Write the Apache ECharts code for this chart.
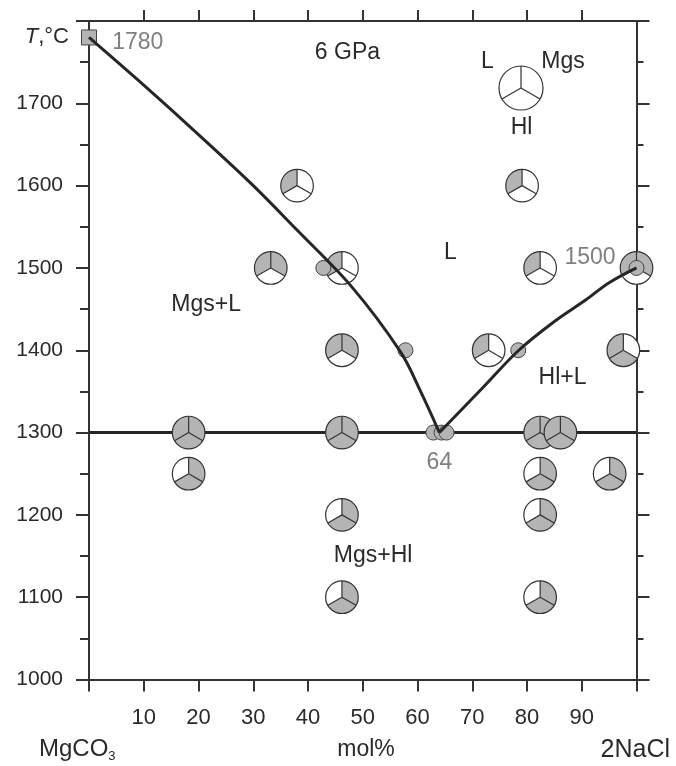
<!DOCTYPE html>
<html><head><meta charset="utf-8">
<script src="https://cdn.jsdelivr.net/npm/echarts@6/dist/echarts.min.js"></script>
<style>html,body{margin:0;padding:0;background:#fff}#c{width:676px;height:766px}</style>
</head><body><div id="c"></div>
<script>
// ---- data ----
const xTickLabels = [10, 20, 30, 40, 50, 60, 70, 80, 90];
const yTickLabels = [1000, 1100, 1200, 1300, 1400, 1500, 1600, 1700];
// experiments: composition (mol% 2NaCl), temperature, phases present (1 = present)
const pieX   = [38.0, 79.1, 33.2, 46.2, 82.4, 100, 46.2, 73.0, 97.6, 18.2, 46.2, 82.4, 86.1, 18.2, 82.4, 95.1, 46.2, 46.2, 82.4, 82.4];
const pieT   = [1600, 1600, 1500, 1500, 1500, 1500, 1400, 1400, 1400, 1300, 1300, 1300, 1300, 1250, 1250, 1250, 1200, 1100, 1200, 1100];
const pieL   = [1, 1, 1, 1, 1, 1, 1, 1, 1, 1, 1, 1, 1, 0, 0, 0, 0, 0, 0, 0];
const pieMgs = [0, 0, 1, 0, 0, 1, 1, 0, 0, 1, 1, 1, 1, 1, 1, 1, 1, 1, 1, 1];
const pieHl  = [0, 0, 0, 0, 0, 0, 0, 0, 1, 1, 1, 1, 1, 1, 1, 1, 1, 1, 1, 1];
// small liquidus-bracket points
const dotX = [42.8, 57.8, 78.4, 62.9, 64.4, 65.3, 100];
const dotT = [1500, 1400, 1400, 1300, 1300, 1300, 1500];
// melting point of MgCO3
const mgsMeltX = [0];
const mgsMeltT = [1780];
// liquidus curves
const liqMgsX = [0, 10, 20, 30, 38, 48, 56.9, 60.5, 64];
const liqMgsT = [1780, 1722, 1662, 1600, 1546, 1477, 1398, 1351, 1300];
const liqHlX = [64, 72, 78.5, 85, 90.7, 95, 100];
const liqHlT = [1300, 1355, 1400, 1435, 1461, 1482, 1500];
// eutectic (solidus) line
const solX = [0, 100];
const solT = [1300, 1300];
// annotations
const noteText = ['6 GPa', 'L', 'Mgs+L', 'Hl+L', 'Mgs+Hl', '64', '1500', '1780'];
const noteX    = [47.2, 66.0, 21.4, 86.5, 51.9, 64.0, 91.5, 8.9];
const noteT    = [1762, 1518, 1455, 1367, 1151, 1264, 1512, 1774];
const noteGrey = [0, 0, 0, 0, 0, 1, 1, 1];

// ---- styles ----
const FONT = 'Liberation Sans, Arial, sans-serif';
const INK = '#2a2a2a';
const AX = '#333';
const GREY = '#b4b4b4';
const TXTGREY = '#808080';
const LINE = '#262626';

const A_MGS = [-Math.PI / 2, Math.PI / 6];
const A_HL = [Math.PI / 6, 5 * Math.PI / 6];
const A_L = [5 * Math.PI / 6, 3 * Math.PI / 2];

function pieChildren(cx, cy, r, f) {
  const ch = [];
  const secs = [[A_L, f[0]], [A_MGS, f[1]], [A_HL, f[2]]];
  secs.forEach(([a, on]) => {
    ch.push({type: 'sector', shape: {cx, cy, r, r0: 0, startAngle: a[0], endAngle: a[1], clockwise: true},
      style: {fill: on ? GREY : '#fff', stroke: null}});
  });
  ch.push({type: 'circle', shape: {cx, cy, r}, style: {fill: null, stroke: AX, lineWidth: 1.2}});
  [-Math.PI / 2, Math.PI / 6, 5 * Math.PI / 6].forEach(a => {
    ch.push({type: 'line', shape: {x1: cx, y1: cy, x2: cx + r * Math.cos(a), y2: cy + r * Math.sin(a)},
      style: {stroke: AX, lineWidth: 1.2}});
  });
  return ch;
}

const chart = echarts.init(document.getElementById('c'), null, {renderer: 'canvas'});

const axisLineStyle = {color: AX, width: 2};
const option = {
  animation: false,
  backgroundColor: '#fff',
  grid: {left: 89, right: 39.5, top: 21, bottom: 86.5},
  xAxis: [
    {type: 'value', min: 0, max: 100, interval: 10, position: 'bottom',
      axisLine: {show: true, onZero: false, lineStyle: axisLineStyle},
      axisTick: {show: true, length: 12, lineStyle: axisLineStyle},
      axisLabel: {customValues: xTickLabels, formatter: v => String(v), fontSize: 22, color: INK, margin: 27, fontFamily: FONT},
      splitLine: {show: false}},
    {type: 'value', min: 0, max: 100, interval: 10, position: 'top',
      axisLine: {show: true, onZero: false, lineStyle: axisLineStyle},
      axisTick: {show: true, length: 11, customValues: xTickLabels, lineStyle: axisLineStyle},
      axisLabel: {show: false}, splitLine: {show: false}}
  ],
  yAxis: [
    {type: 'value', min: 1000, max: 1800, interval: 100, position: 'left',
      axisLine: {show: true, onZero: false, lineStyle: axisLineStyle},
      axisTick: {show: true, length: 13, lineStyle: axisLineStyle},
      minorTick: {show: true, splitNumber: 2, length: 9, lineStyle: axisLineStyle},
      axisLabel: {customValues: yTickLabels, formatter: v => String(v), fontSize: 21, color: INK, margin: 26, fontFamily: FONT},
      splitLine: {show: false}, minorSplitLine: {show: false}},
    {type: 'value', min: 1000, max: 1800, interval: 100, position: 'right',
      axisLine: {show: true, onZero: false, lineStyle: axisLineStyle},
      axisTick: {show: true, length: 13, lineStyle: axisLineStyle},
      minorTick: {show: true, splitNumber: 2, length: 7, lineStyle: axisLineStyle},
      axisLabel: {show: false}, splitLine: {show: false}, minorSplitLine: {show: false}}
  ],
  series: [
    {type: 'line', name: 'solidus', z: 1, data: solX.map((x, i) => [x, solT[i]]),
      symbol: 'none', lineStyle: {color: LINE, width: 3}, silent: true},
    {type: 'custom', name: 'experiments', z: 3, clip: false,
      data: pieX.map((x, i) => [x, pieT[i], pieL[i], pieMgs[i], pieHl[i]]),
      renderItem: (params, api) => {
        const c = api.coord([api.value(0), api.value(1)]);
        return {type: 'group', children: pieChildren(c[0], c[1], 16.3, [api.value(2), api.value(3), api.value(4)])};
      }},
    {type: 'scatter', name: 'brackets', z: 4, data: dotX.map((x, i) => [x, dotT[i]]),
      symbol: 'circle', symbolSize: 15,
      itemStyle: {color: GREY, borderColor: '#444', borderWidth: 1, opacity: 1}},
    {type: 'scatter', name: 'MgCO3 melting', z: 4, data: mgsMeltX.map((x, i) => [x, mgsMeltT[i]]),
      symbol: 'rect', symbolSize: 15,
      itemStyle: {color: GREY, borderColor: '#444', borderWidth: 1, opacity: 1}},
    {type: 'line', name: 'liquidus Mgs', z: 5, data: liqMgsX.map((x, i) => [x, liqMgsT[i]]),
      smooth: 0.35, symbol: 'none', lineStyle: {color: LINE, width: 3}},
    {type: 'line', name: 'liquidus Hl', z: 5, data: liqHlX.map((x, i) => [x, liqHlT[i]]),
      smooth: 0.35, symbol: 'none', lineStyle: {color: LINE, width: 3}},
    {type: 'custom', name: 'notes', z: 6, clip: false,
      data: noteX.map((x, i) => [x, noteT[i], i]),
      renderItem: (params, api) => {
        const c = api.coord([api.value(0), api.value(1)]);
        const i = api.value(2);
        return {type: 'text', x: c[0], y: c[1],
          style: {text: noteText[i], fill: noteGrey[i] ? TXTGREY : INK, font: '23px ' + FONT,
            align: 'center', verticalAlign: 'middle'}};
      }}
  ],
  graphic: [
    {type: 'group', z: 10, children: pieChildren(521, 88, 22, [0, 0, 0])},
    {type: 'text', z: 10, x: 487.5, y: 62, style: {text: 'L', font: '23px ' + FONT, fill: INK, align: 'center', verticalAlign: 'middle'}},
    {type: 'text', z: 10, x: 563, y: 62, style: {text: 'Mgs', font: '23px ' + FONT, fill: INK, align: 'center', verticalAlign: 'middle'}},
    {type: 'text', z: 10, x: 521.5, y: 128, style: {text: 'Hl', font: '23px ' + FONT, fill: INK, align: 'center', verticalAlign: 'middle'}},
    {type: 'text', z: 10, x: 69, y: 37, style: {
      text: '{i|T}{n|,°C}', align: 'right', verticalAlign: 'middle',
      rich: {i: {font: 'italic 22px ' + FONT, fill: INK}, n: {font: '22px ' + FONT, fill: INK}}}},
    {type: 'text', z: 10, x: 39, y: 749, style: {
      text: '{m|MgCO}{s|3}', align: 'left', verticalAlign: 'middle',
      rich: {m: {font: '24px ' + FONT, fill: INK}, s: {font: '13px ' + FONT, fill: INK, padding: [14, 0, 0, 0]}}}},
    {type: 'text', z: 10, x: 366, y: 750, style: {text: 'mol%', font: '23px ' + FONT, fill: INK, align: 'center', verticalAlign: 'middle'}},
    {type: 'text', z: 10, x: 670, y: 750, style: {text: '2NaCl', font: '25px ' + FONT, fill: INK, align: 'right', verticalAlign: 'middle'}}
  ]
};
chart.setOption(option);
</script>
</body></html>
